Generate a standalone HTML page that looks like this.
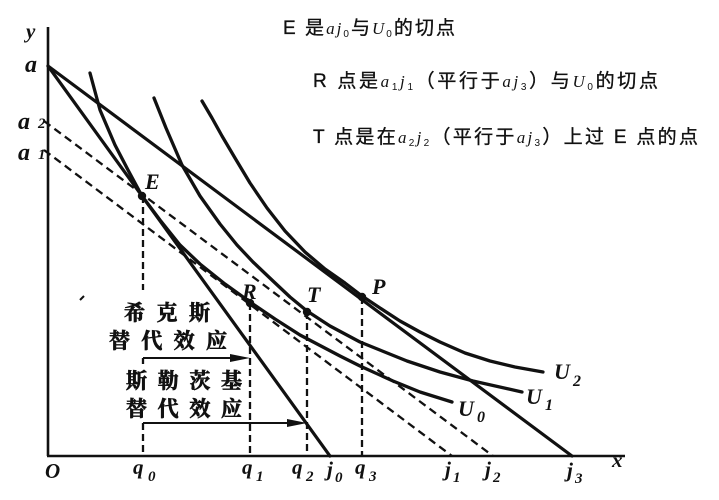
<!DOCTYPE html>
<html>
<head>
<meta charset="utf-8">
<style>
  html,body{margin:0;padding:0;background:#fff;}
  body{width:719px;height:500px;overflow:hidden;}
  svg{display:block;}
  .lbl{font-family:"Liberation Serif",serif;font-style:italic;font-weight:bold;fill:#111;}
  .ann{font-family:"Liberation Sans","Noto Sans CJK SC",sans-serif;font-size:19px;fill:#111;stroke:#111;stroke-width:0.35;}
  .m{font-family:"Liberation Serif",serif;font-style:italic;stroke-width:0;}
  .cn{font-family:"Liberation Serif","Noto Serif CJK SC",serif;font-weight:bold;font-size:21px;fill:#111;stroke:#111;stroke-width:0.7;}
</style>
</head>
<body>
<svg width="719" height="500" viewBox="0 0 719 500" xmlns="http://www.w3.org/2000/svg">
  <rect width="719" height="500" fill="#fff"/>

  <!-- axes -->
  <g stroke="#111" stroke-width="2.6" fill="none">
    <line x1="48" y1="27" x2="48" y2="456"/>
    <line x1="47" y1="456" x2="625" y2="456"/>
  </g>

  <!-- budget lines solid -->
  <g stroke="#111" stroke-width="3.2" fill="none" stroke-linecap="round">
    <line x1="48" y1="66" x2="330" y2="456"/>
    <line x1="48" y1="66" x2="572" y2="456"/>
  </g>

  <!-- dashed budget lines -->
  <g stroke="#111" stroke-width="2.3" fill="none" stroke-dasharray="8 5">
    <line x1="44" y1="121" x2="493" y2="456"/>
    <line x1="44" y1="150" x2="452" y2="456"/>
  </g>

  <!-- vertical dashed lines -->
  <g stroke="#111" stroke-width="2.3" fill="none" stroke-dasharray="7 4">
    <line x1="143" y1="196" x2="143" y2="290"/>
    <line x1="143" y1="358" x2="143" y2="364"/>
    <line x1="143" y1="423" x2="143" y2="456"/>
    <line x1="250" y1="303" x2="250" y2="456"/>
    <line x1="307" y1="312" x2="307" y2="456"/>
    <line x1="362" y1="297" x2="362" y2="456"/>
  </g>

  <!-- indifference curves -->
  <g stroke="#111" stroke-width="3.3" fill="none" stroke-linejoin="round" stroke-linecap="round">
    <polyline points="90,73 100,110 115,145 128,170 142,196 160,220 180,245 200,264 225,284 250,302 275,319 300,335 340,356 360,366 393,381 420,392 452,402"/>
    <polyline points="154,98 166,128 182,165 200,196 220,224 237,245 253,262 273,281 290,297 307,311 330,326 360,342 407,361 440,372 473,381 522,392"/>
    <polyline points="202,101 212,118 222,136 235,158 250,183 267,208 285,231 305,252 325,269 345,283 362,296 380,308 400,321 420,332 440,342 465,353 490,361 515,367 543,372"/>
  </g>

  <!-- arrows -->
  <g stroke="#111" stroke-width="2" fill="none">
    <line x1="143" y1="358" x2="236" y2="358"/>
    <line x1="143" y1="423" x2="292" y2="423"/>
  </g>
  <polygon points="230,354 250,358 230,362" fill="#111"/>
  <polygon points="287,419 307,423 287,427" fill="#111"/>

  <!-- points -->
  <g fill="#111">
    <circle cx="142" cy="196" r="4.2"/>
    <circle cx="250" cy="303" r="4.2"/>
    <circle cx="307" cy="312" r="4.2"/>
    <circle cx="362" cy="297" r="4.2"/>
  </g>
  <!-- stray mark -->
  <line x1="80" y1="300" x2="84" y2="296" stroke="#111" stroke-width="2"/>

  <!-- axis labels -->
  <text class="lbl" x="26" y="38" font-size="21" font-weight="normal">y</text>
  <text class="lbl" x="25" y="72" font-size="24">a</text>
  <text class="lbl" x="18" y="129" font-size="24">a</text>
  <text class="lbl" x="38" y="128" font-size="15" font-style="normal">2</text>
  <text class="lbl" x="18" y="160" font-size="24">a</text>
  <text class="lbl" x="38" y="159" font-size="15" font-style="normal">1</text>

  <text class="lbl" x="45" y="478" font-size="21">O</text>
  <text class="lbl" x="133" y="474" font-size="21">q</text><text class="lbl" x="148" y="481" font-size="15" font-style="normal">0</text>
  <text class="lbl" x="242" y="474" font-size="21">q</text><text class="lbl" x="256" y="481" font-size="15" font-style="normal">1</text>
  <text class="lbl" x="292" y="474" font-size="21">q</text><text class="lbl" x="306" y="481" font-size="15" font-style="normal">2</text>
  <text class="lbl" x="327" y="476" font-size="21">j</text><text class="lbl" x="335" y="482" font-size="15" font-style="normal">0</text>
  <text class="lbl" x="355" y="474" font-size="21">q</text><text class="lbl" x="369" y="481" font-size="15" font-style="normal">3</text>
  <text class="lbl" x="445" y="476" font-size="21">j</text><text class="lbl" x="453" y="482" font-size="15" font-style="normal">1</text>
  <text class="lbl" x="485" y="476" font-size="21">j</text><text class="lbl" x="493" y="482" font-size="15" font-style="normal">2</text>
  <text class="lbl" x="567" y="477" font-size="21">j</text><text class="lbl" x="575" y="483" font-size="15" font-style="normal">3</text>
  <text class="lbl" x="612" y="467" font-size="21">x</text>

  <!-- point labels -->
  <text class="lbl" x="145" y="189" font-size="22">E</text>
  <text class="lbl" x="242" y="299" font-size="22">R</text>
  <text class="lbl" x="307" y="302" font-size="22">T</text>
  <text class="lbl" x="372" y="294" font-size="22">P</text>

  <!-- curve labels -->
  <text class="lbl" x="458" y="416" font-size="22">U</text><text class="lbl" x="477" y="422" font-size="16" font-style="normal">0</text>
  <text class="lbl" x="526" y="404" font-size="22">U</text><text class="lbl" x="545" y="410" font-size="16" font-style="normal">1</text>
  <text class="lbl" x="554" y="379" font-size="22">U</text><text class="lbl" x="573" y="386" font-size="16" font-style="normal">2</text>

  <!-- Chinese labels -->
  <text class="cn" x="124" y="320" textLength="86" lengthAdjust="spacing">希克斯</text>
  <text class="cn" x="109" y="348" textLength="118" lengthAdjust="spacing">替代效应</text>
  <text class="cn" x="126" y="388" textLength="116" lengthAdjust="spacing">斯勒茨基</text>
  <text class="cn" x="126" y="416" textLength="116" lengthAdjust="spacing">替代效应</text>

  <!-- annotations -->
  <text class="ann" x="283" y="34" textLength="172" lengthAdjust="spacing">E 是<tspan class="m" font-size="17">aj</tspan><tspan font-size="10" dy="3" stroke-width="0">0</tspan><tspan dy="-3">与</tspan><tspan class="m" font-size="17">U</tspan><tspan font-size="10" dy="3" stroke-width="0">0</tspan><tspan dy="-3">的切点</tspan></text>
  <text class="ann" x="313" y="87" textLength="345" lengthAdjust="spacing">R 点是<tspan class="m" font-size="17">a</tspan><tspan font-size="10" dy="3" stroke-width="0">1</tspan><tspan class="m" font-size="17" dy="-3">j</tspan><tspan font-size="10" dy="3" stroke-width="0">1</tspan><tspan dy="-3">（平行于</tspan><tspan class="m" font-size="17">aj</tspan><tspan font-size="10" dy="3" stroke-width="0">3</tspan><tspan dy="-3">）与</tspan><tspan class="m" font-size="17">U</tspan><tspan font-size="10" dy="3" stroke-width="0">0</tspan><tspan dy="-3">的切点</tspan></text>
  <text class="ann" x="313" y="143" textLength="385" lengthAdjust="spacing">T 点是在<tspan class="m" font-size="17">a</tspan><tspan font-size="10" dy="3" stroke-width="0">2</tspan><tspan class="m" font-size="17" dy="-3">j</tspan><tspan font-size="10" dy="3" stroke-width="0">2</tspan><tspan dy="-3">（平行于</tspan><tspan class="m" font-size="17">aj</tspan><tspan font-size="10" dy="3" stroke-width="0">3</tspan><tspan dy="-3">）上过 E 点的点</tspan></text>
</svg>
</body>
</html>
